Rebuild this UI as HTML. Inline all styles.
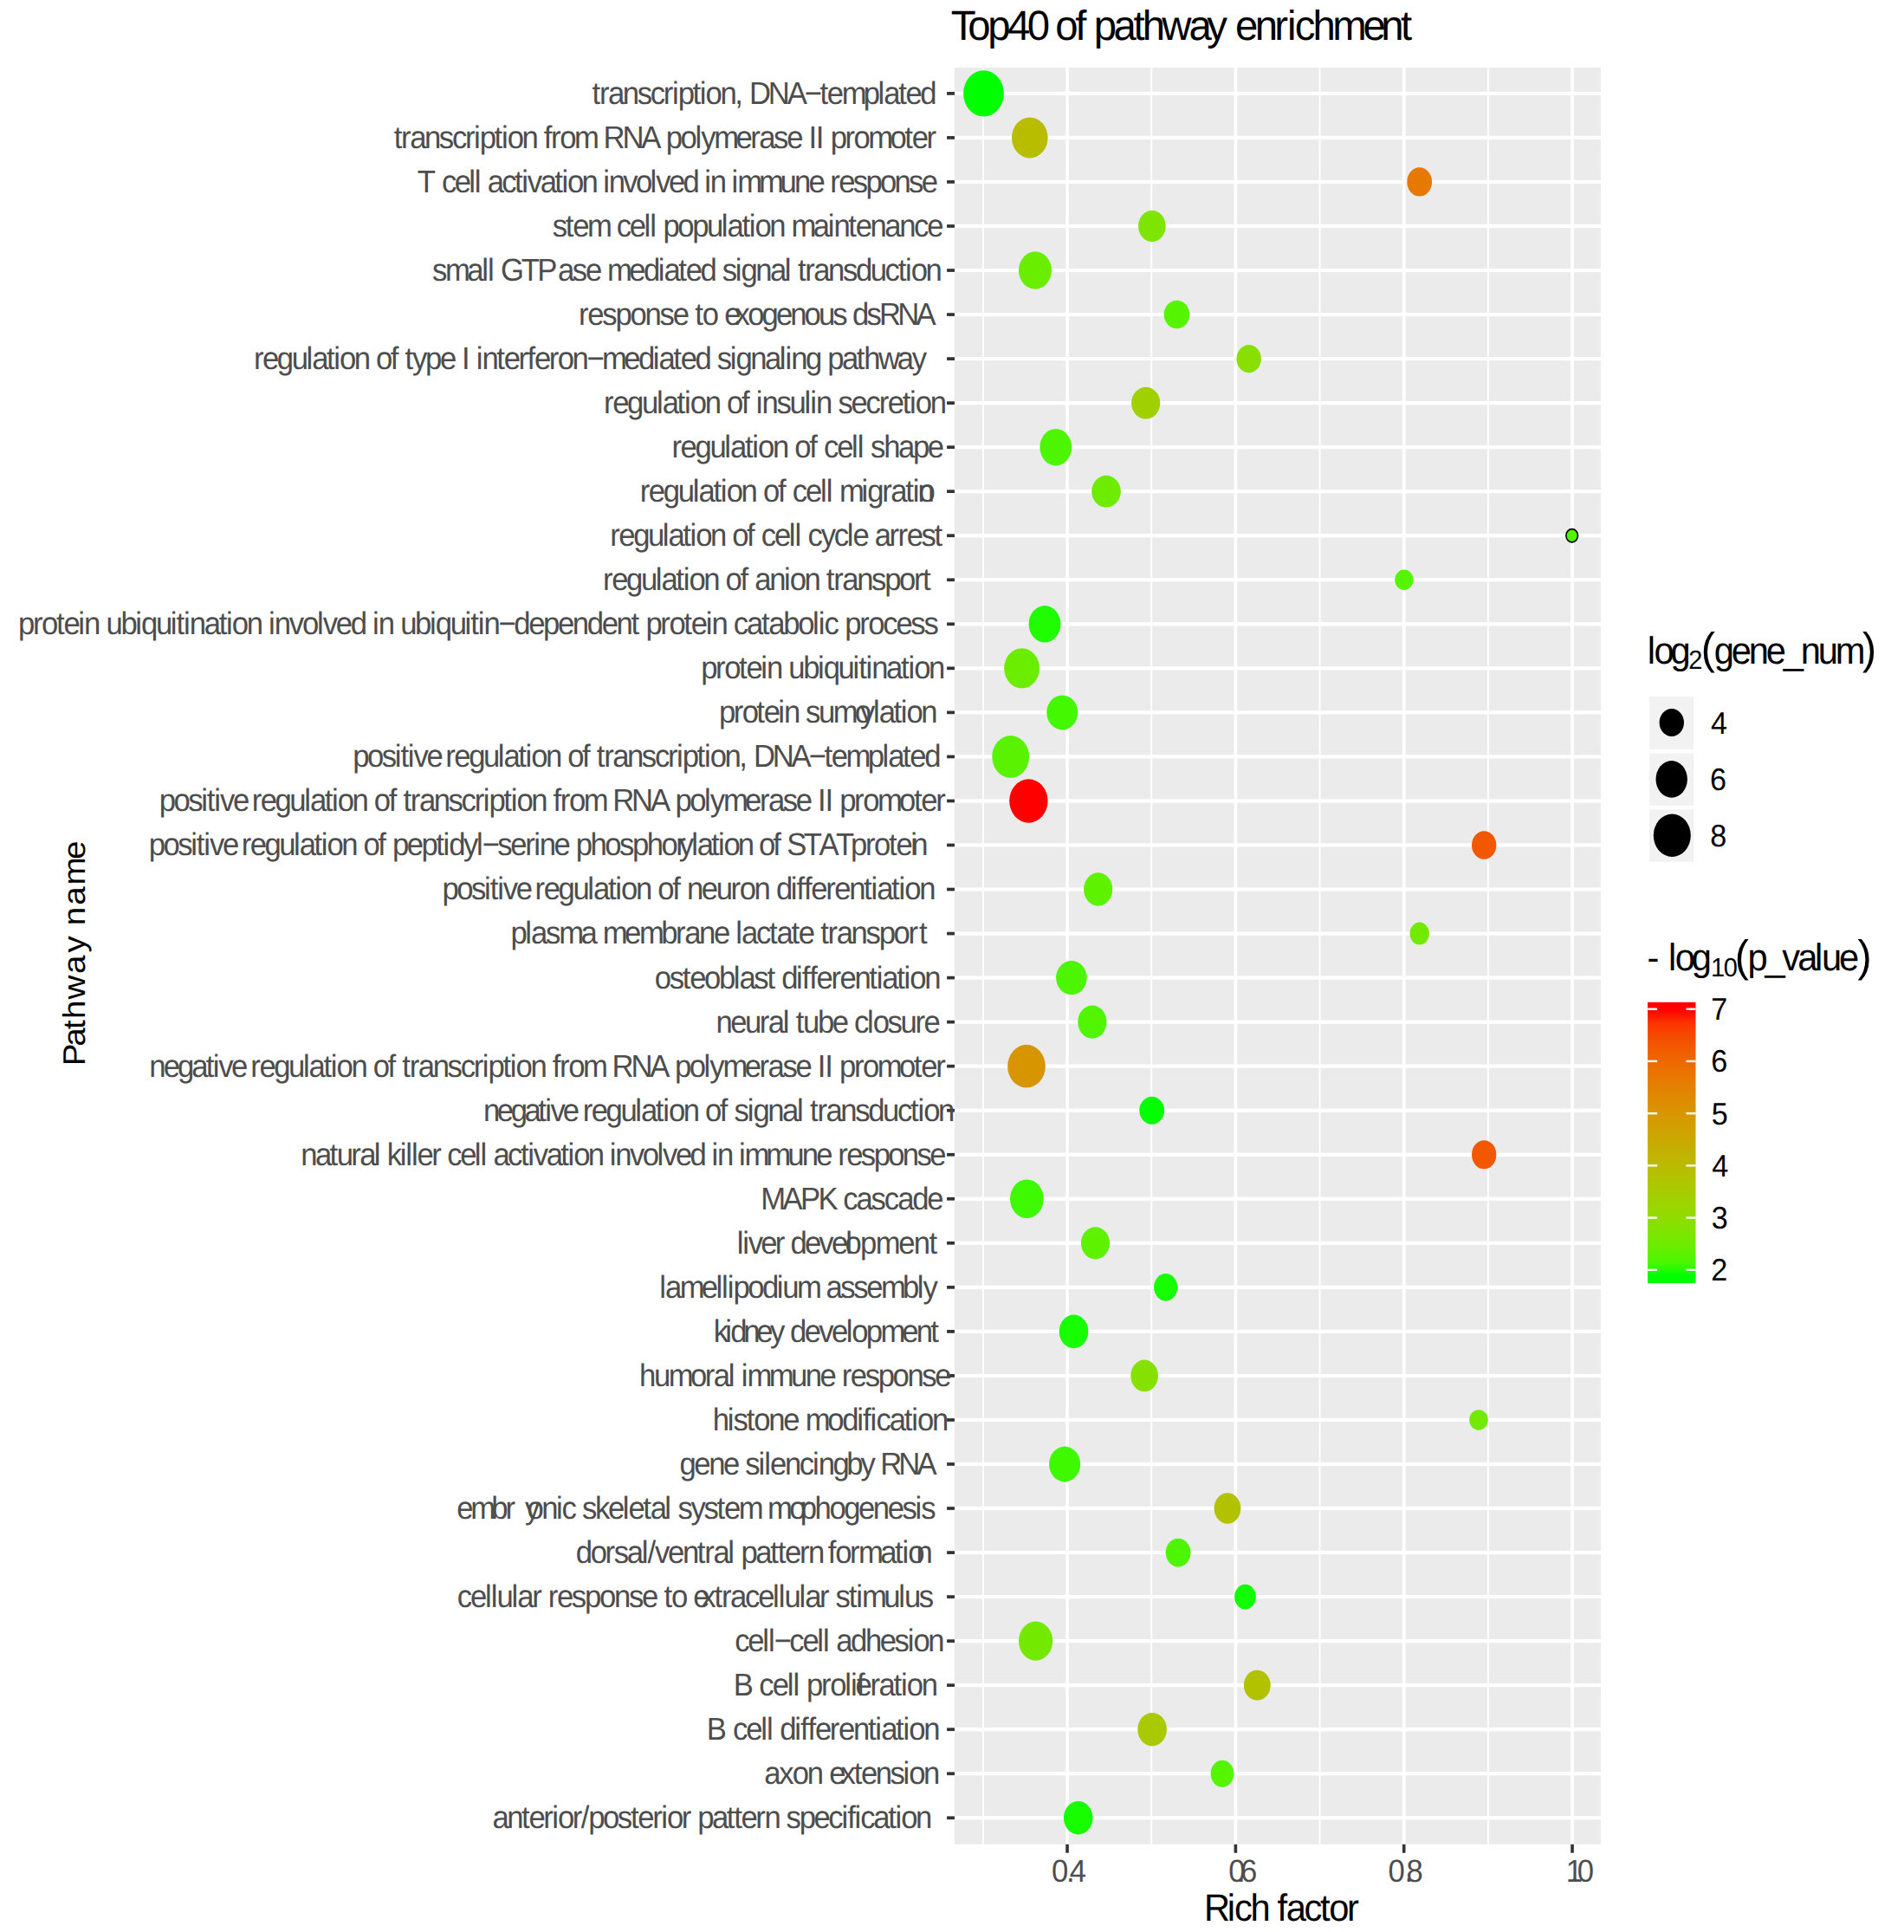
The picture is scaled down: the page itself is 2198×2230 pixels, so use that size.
<!DOCTYPE html>
<html><head><meta charset="utf-8"><title>Top40 of pathway enrichment</title>
<style>html,body{margin:0;padding:0;background:#fff}svg{display:block}text{white-space:pre}</style></head>
<body>
<svg width="2198" height="2230" viewBox="0 0 2198 2230" font-family="'Liberation Sans', sans-serif" style="font-kerning:none;font-variant-ligatures:none" text-rendering="geometricPrecision">
<rect x="0" y="0" width="2198" height="2230" fill="#fff"/>
<rect x="1102" y="78" width="745.9" height="2050.8" fill="#EBEBEB"/>
<g fill="#fff"><rect x="1134.00" y="78" width="1.9" height="2050.8"/><rect x="1328.27" y="78" width="1.9" height="2050.8"/><rect x="1522.60" y="78" width="1.9" height="2050.8"/><rect x="1716.93" y="78" width="1.9" height="2050.8"/><rect x="1102" y="105.80" width="745.9" height="4.2"/><rect x="1102" y="156.84" width="745.9" height="4.2"/><rect x="1102" y="207.87" width="745.9" height="4.2"/><rect x="1102" y="258.90" width="745.9" height="4.2"/><rect x="1102" y="309.94" width="745.9" height="4.2"/><rect x="1102" y="360.97" width="745.9" height="4.2"/><rect x="1102" y="412.01" width="745.9" height="4.2"/><rect x="1102" y="463.04" width="745.9" height="4.2"/><rect x="1102" y="514.08" width="745.9" height="4.2"/><rect x="1102" y="565.11" width="745.9" height="4.2"/><rect x="1102" y="616.15" width="745.9" height="4.2"/><rect x="1102" y="667.18" width="745.9" height="4.2"/><rect x="1102" y="718.22" width="745.9" height="4.2"/><rect x="1102" y="769.25" width="745.9" height="4.2"/><rect x="1102" y="820.29" width="745.9" height="4.2"/><rect x="1102" y="871.32" width="745.9" height="4.2"/><rect x="1102" y="922.36" width="745.9" height="4.2"/><rect x="1102" y="973.39" width="745.9" height="4.2"/><rect x="1102" y="1024.43" width="745.9" height="4.2"/><rect x="1102" y="1075.47" width="745.9" height="4.2"/><rect x="1102" y="1126.50" width="745.9" height="4.2"/><rect x="1102" y="1177.54" width="745.9" height="4.2"/><rect x="1102" y="1228.57" width="745.9" height="4.2"/><rect x="1102" y="1279.61" width="745.9" height="4.2"/><rect x="1102" y="1330.64" width="745.9" height="4.2"/><rect x="1102" y="1381.68" width="745.9" height="4.2"/><rect x="1102" y="1432.71" width="745.9" height="4.2"/><rect x="1102" y="1483.75" width="745.9" height="4.2"/><rect x="1102" y="1534.78" width="745.9" height="4.2"/><rect x="1102" y="1585.82" width="745.9" height="4.2"/><rect x="1102" y="1636.85" width="745.9" height="4.2"/><rect x="1102" y="1687.88" width="745.9" height="4.2"/><rect x="1102" y="1738.92" width="745.9" height="4.2"/><rect x="1102" y="1789.96" width="745.9" height="4.2"/><rect x="1102" y="1840.99" width="745.9" height="4.2"/><rect x="1102" y="1892.03" width="745.9" height="4.2"/><rect x="1102" y="1943.06" width="745.9" height="4.2"/><rect x="1102" y="1994.10" width="745.9" height="4.2"/><rect x="1102" y="2045.13" width="745.9" height="4.2"/><rect x="1102" y="2096.16" width="745.9" height="4.2"/><rect x="1230.20" y="78" width="3.7" height="2050.8"/><rect x="1424.53" y="78" width="3.7" height="2050.8"/><rect x="1618.87" y="78" width="3.7" height="2050.8"/><rect x="1813.20" y="78" width="3.7" height="2050.8"/></g>
<g><ellipse cx="1135.5" cy="107.90" rx="23.4" ry="26.7" fill="#00FF00"/><ellipse cx="1188.8" cy="158.94" rx="20.8" ry="23.5" fill="#B8BD00"/><ellipse cx="1638.7" cy="209.97" rx="14.4" ry="16.6" fill="#E67A00"/><ellipse cx="1329.9" cy="261.00" rx="15.8" ry="18.0" fill="#7EE500"/><ellipse cx="1195.0" cy="312.04" rx="19.0" ry="21.7" fill="#6AEE00"/><ellipse cx="1358.5" cy="363.07" rx="14.8" ry="16.2" fill="#55F400"/><ellipse cx="1441.7" cy="414.11" rx="14.2" ry="16.2" fill="#89DF00"/><ellipse cx="1322.7" cy="465.14" rx="16.6" ry="18.4" fill="#A1D000"/><ellipse cx="1218.8" cy="516.18" rx="18.4" ry="21.2" fill="#4DF600"/><ellipse cx="1277.0" cy="567.21" rx="16.8" ry="18.4" fill="#6DEC00"/><ellipse cx="1814.7" cy="618.25" rx="6.8" ry="7.6" fill="#51F500" stroke="#000" stroke-width="1.6"/><ellipse cx="1620.9" cy="669.28" rx="10.6" ry="11.8" fill="#55F400"/><ellipse cx="1206.0" cy="720.32" rx="18.4" ry="21.2" fill="#1FFD00"/><ellipse cx="1179.6" cy="771.35" rx="20.4" ry="23.2" fill="#6BED00"/><ellipse cx="1226.3" cy="822.39" rx="18.0" ry="20.0" fill="#43F800"/><ellipse cx="1166.7" cy="873.42" rx="21.4" ry="24.4" fill="#5BF200"/><ellipse cx="1187.4" cy="924.46" rx="22.2" ry="25.2" fill="#FF0000"/><ellipse cx="1713.2" cy="975.49" rx="14.2" ry="16.2" fill="#F35700"/><ellipse cx="1267.7" cy="1026.53" rx="16.6" ry="19.2" fill="#5EF100"/><ellipse cx="1638.7" cy="1077.57" rx="11.2" ry="13.0" fill="#72EA00"/><ellipse cx="1236.9" cy="1128.60" rx="17.8" ry="19.6" fill="#4DF600"/><ellipse cx="1260.9" cy="1179.63" rx="16.6" ry="19.2" fill="#51F500"/><ellipse cx="1185.0" cy="1230.67" rx="21.8" ry="24.8" fill="#D79600"/><ellipse cx="1329.7" cy="1281.70" rx="14.4" ry="16.0" fill="#00FF00"/><ellipse cx="1713.2" cy="1332.74" rx="14.2" ry="16.6" fill="#F35700"/><ellipse cx="1185.4" cy="1383.78" rx="19.4" ry="22.4" fill="#3EF900"/><ellipse cx="1264.5" cy="1434.81" rx="16.6" ry="18.6" fill="#5EF100"/><ellipse cx="1345.7" cy="1485.85" rx="13.6" ry="15.8" fill="#16FE00"/><ellipse cx="1239.5" cy="1536.88" rx="16.8" ry="19.4" fill="#16FE00"/><ellipse cx="1321.1" cy="1587.91" rx="15.8" ry="18.4" fill="#87E100"/><ellipse cx="1707.0" cy="1638.95" rx="10.8" ry="11.8" fill="#72EA00"/><ellipse cx="1229.1" cy="1689.98" rx="18.0" ry="20.4" fill="#3EF900"/><ellipse cx="1417.0" cy="1741.02" rx="15.4" ry="17.8" fill="#B2C200"/><ellipse cx="1360.1" cy="1792.06" rx="14.4" ry="16.4" fill="#4DF600"/><ellipse cx="1437.5" cy="1843.09" rx="12.4" ry="14.4" fill="#10FE00"/><ellipse cx="1195.6" cy="1894.12" rx="19.6" ry="22.6" fill="#74E900"/><ellipse cx="1451.3" cy="1945.16" rx="15.4" ry="17.4" fill="#B2C200"/><ellipse cx="1330.1" cy="1996.19" rx="16.8" ry="19.2" fill="#A9CA00"/><ellipse cx="1411.0" cy="2047.23" rx="13.4" ry="15.6" fill="#55F400"/><ellipse cx="1244.7" cy="2098.26" rx="16.8" ry="19.2" fill="#16FE00"/></g>
<g fill="#333"><rect x="1093.1" y="106.05" width="8.9" height="3.7"/><rect x="1093.1" y="157.09" width="8.9" height="3.7"/><rect x="1093.1" y="208.12" width="8.9" height="3.7"/><rect x="1093.1" y="259.15" width="8.9" height="3.7"/><rect x="1093.1" y="310.19" width="8.9" height="3.7"/><rect x="1093.1" y="361.22" width="8.9" height="3.7"/><rect x="1093.1" y="412.26" width="8.9" height="3.7"/><rect x="1093.1" y="463.29" width="8.9" height="3.7"/><rect x="1093.1" y="514.33" width="8.9" height="3.7"/><rect x="1093.1" y="565.36" width="8.9" height="3.7"/><rect x="1093.1" y="616.40" width="8.9" height="3.7"/><rect x="1093.1" y="667.43" width="8.9" height="3.7"/><rect x="1093.1" y="718.47" width="8.9" height="3.7"/><rect x="1093.1" y="769.50" width="8.9" height="3.7"/><rect x="1093.1" y="820.54" width="8.9" height="3.7"/><rect x="1093.1" y="871.57" width="8.9" height="3.7"/><rect x="1093.1" y="922.61" width="8.9" height="3.7"/><rect x="1093.1" y="973.64" width="8.9" height="3.7"/><rect x="1093.1" y="1024.68" width="8.9" height="3.7"/><rect x="1093.1" y="1075.72" width="8.9" height="3.7"/><rect x="1093.1" y="1126.75" width="8.9" height="3.7"/><rect x="1093.1" y="1177.79" width="8.9" height="3.7"/><rect x="1093.1" y="1228.82" width="8.9" height="3.7"/><rect x="1093.1" y="1279.86" width="8.9" height="3.7"/><rect x="1093.1" y="1330.89" width="8.9" height="3.7"/><rect x="1093.1" y="1381.93" width="8.9" height="3.7"/><rect x="1093.1" y="1432.96" width="8.9" height="3.7"/><rect x="1093.1" y="1484.00" width="8.9" height="3.7"/><rect x="1093.1" y="1535.03" width="8.9" height="3.7"/><rect x="1093.1" y="1586.07" width="8.9" height="3.7"/><rect x="1093.1" y="1637.10" width="8.9" height="3.7"/><rect x="1093.1" y="1688.13" width="8.9" height="3.7"/><rect x="1093.1" y="1739.17" width="8.9" height="3.7"/><rect x="1093.1" y="1790.21" width="8.9" height="3.7"/><rect x="1093.1" y="1841.24" width="8.9" height="3.7"/><rect x="1093.1" y="1892.28" width="8.9" height="3.7"/><rect x="1093.1" y="1943.31" width="8.9" height="3.7"/><rect x="1093.1" y="1994.35" width="8.9" height="3.7"/><rect x="1093.1" y="2045.38" width="8.9" height="3.7"/><rect x="1093.1" y="2096.41" width="8.9" height="3.7"/><rect x="1230.25" y="2128.8" width="3.6" height="9.9"/><rect x="1424.58" y="2128.8" width="3.6" height="9.9"/><rect x="1618.92" y="2128.8" width="3.6" height="9.9"/><rect x="1813.25" y="2128.8" width="3.6" height="9.9"/></g>
<g><text transform="translate(683.58 119.80) scale(0.9500 1)" x="0.00 8.84 19.43 37.12 54.82 70.72 86.63 97.22 104.29 121.98 130.82 137.89 155.58 173.27 182.11 190.95 213.93 236.90 258.12 276.70 285.53 303.23 329.73 347.42 354.49 372.18 381.02 398.71" y="0" font-size="36.50" fill="#4D4D4D">transcription, DNA−templated</text>
<text transform="translate(454.68 170.84) scale(0.9500 1)" x="0.00 8.84 19.44 37.13 54.83 70.74 86.65 97.24 104.31 122.01 130.85 137.92 155.62 173.31 182.15 190.99 201.59 219.29 245.79 254.63 277.61 300.59 321.81 330.65 348.35 366.05 373.11 389.02 415.53 433.23 443.82 461.52 477.43 495.12 503.97 512.81 521.65 530.49 548.18 558.78 576.48 602.98 620.68 629.52 647.21" y="0" font-size="36.50" fill="#4D4D4D">transcription from RNA polymerase II promoter</text>
<text transform="translate(481.82 221.87) scale(0.9500 1)" x="0.00 19.26 29.59 45.20 62.56 69.50 76.43 85.11 102.47 118.08 126.76 133.69 149.30 166.67 175.34 182.28 199.64 217.00 225.68 232.62 249.98 265.59 282.95 289.89 305.50 322.86 340.23 348.90 355.84 373.20 381.88 388.81 414.82 440.83 458.19 475.56 492.92 501.59 511.99 529.36 544.97 562.33 579.69 597.06 612.67" y="0" font-size="36.50" fill="#4D4D4D">T cell activation involved in immune response</text>
<text transform="translate(637.63 272.90) scale(0.9500 1)" x="0.00 15.93 24.79 42.51 69.06 77.91 93.85 111.57 118.65 125.73 134.59 152.31 170.04 187.76 205.48 212.56 230.29 239.14 246.22 263.95 281.67 290.52 317.07 334.80 341.88 359.60 368.45 386.18 403.90 421.63 439.35 455.29" y="0" font-size="36.50" fill="#4D4D4D">stem cell population maintenance</text>
<text transform="translate(498.93 323.94) scale(0.9500 1)" x="0.00 15.96 42.54 60.29 67.38 74.47 83.33 108.15 127.65 152.73 170.40 186.29 203.96 212.79 239.26 256.93 274.60 281.66 299.33 308.16 325.83 343.50 352.33 368.22 375.28 392.95 410.62 428.29 435.35 444.18 453.01 463.59 481.26 498.93 514.82 532.49 550.17 566.05 574.88 581.94 599.61" y="0" font-size="36.50" fill="#4D4D4D">small GTPase mediated signal transduction</text>
<text transform="translate(668.00 374.97) scale(0.9500 1)" x="0.00 10.71 28.60 44.68 62.57 80.46 98.34 114.43 132.31 141.25 150.19 168.07 177.01 190.12 205.57 222.76 239.95 257.14 274.33 291.52 308.71 324.17 332.76 349.95 365.40 387.72 410.04" y="0" font-size="36.50" fill="#4D4D4D">response to exogenous dsRNA</text>
<text transform="translate(293.00 426.01) scale(0.9500 1)" x="0.00 10.59 28.26 45.94 63.62 70.68 88.36 97.19 104.25 121.93 139.61 148.44 166.12 174.95 183.78 192.62 208.51 226.19 243.87 252.70 261.53 270.36 277.42 295.10 303.93 321.61 332.20 341.03 358.71 369.29 386.97 404.65 423.21 449.69 467.37 485.05 492.11 509.79 518.62 536.30 553.98 562.81 578.70 585.76 603.44 621.12 638.80 645.86 652.92 670.60 688.28 697.11 714.79 732.47 741.30 758.98 781.94 799.61" y="0" font-size="36.50" fill="#4D4D4D">regulation of type I interferon−mediated signaling pathway</text>
<text transform="translate(697.10 477.04) scale(0.9500 1)" x="0.00 10.65 28.44 46.23 64.02 71.12 88.91 97.80 104.91 122.70 140.48 149.37 167.16 176.05 184.93 192.04 209.83 225.82 243.61 250.72 257.82 275.61 284.50 300.49 318.28 334.27 344.92 362.71 371.60 378.71 396.49" y="0" font-size="36.50" fill="#4D4D4D">regulation of insulin secretion</text>
<text transform="translate(775.50 528.08) scale(0.9500 1)" x="0.00 10.64 28.42 46.19 63.96 71.06 88.84 97.72 104.82 122.59 140.36 149.24 167.01 175.89 184.77 200.75 218.53 225.63 232.73 241.60 257.58 275.36 293.13 310.90" y="0" font-size="36.50" fill="#4D4D4D">regulation of cell shape</text>
<text transform="translate(738.70 579.11) scale(0.9500 1)" x="0.00 10.68 28.52 46.36 64.19 71.32 89.16 98.07 105.19 123.03 140.87 149.78 167.62 176.53 185.44 201.47 219.31 226.44 233.56 242.47 269.19 276.32 294.15 304.84 322.67 331.58 338.71 337.58" y="0" font-size="36.50" fill="#4D4D4D">regulation of cell migration</text>
<text transform="translate(704.30 630.15) scale(0.9500 1)" x="0.00 10.58 28.26 45.93 63.61 70.67 88.35 97.18 104.24 121.91 139.59 148.42 166.09 174.92 183.75 199.64 217.32 224.38 231.44 240.27 256.16 272.05 287.94 295.00 312.68 321.51 339.19 349.77 360.35 378.03 393.92" y="0" font-size="36.50" fill="#4D4D4D">regulation of cell cycle arrest</text>
<text transform="translate(696.10 681.18) scale(0.9500 1)" x="0.00 10.62 28.36 46.10 63.84 70.93 88.67 97.53 104.62 122.35 140.09 148.96 166.70 175.56 184.42 202.16 219.90 226.99 244.73 262.46 271.33 280.19 290.81 308.55 326.29 342.24 359.98 377.72 388.34" y="0" font-size="36.50" fill="#4D4D4D">regulation of anion transport</text>
<text transform="translate(21.07 732.22) scale(0.9500 1)" x="0.00 17.80 28.46 46.26 55.15 72.95 80.06 97.86 106.75 124.55 142.35 149.46 167.26 185.06 192.17 201.06 208.17 225.97 243.77 252.66 259.77 277.57 295.37 304.26 311.37 329.17 345.17 362.97 370.08 386.08 403.88 421.68 430.57 437.68 455.48 464.37 482.17 499.97 507.08 524.88 542.68 549.79 558.68 565.79 583.59 602.28 620.08 637.88 655.68 673.48 691.28 709.08 726.88 744.68 753.57 762.46 780.26 790.92 808.72 817.61 835.41 842.52 860.32 869.21 885.21 903.01 911.90 929.70 947.50 965.30 972.41 979.52 995.52 1004.41 1022.21 1032.87 1050.67 1066.67 1084.47 1100.47" y="0" font-size="36.50" fill="#4D4D4D">protein ubiquitination involved in ubiquitin−dependent protein catabolic process</text>
<text transform="translate(809.27 783.25) scale(0.9500 1)" x="0.00 17.73 28.35 46.08 54.94 72.67 79.76 97.49 106.35 124.08 141.81 148.90 166.63 184.36 191.45 200.30 207.39 225.12 242.85 251.71 258.80 276.53" y="0" font-size="36.50" fill="#4D4D4D">protein ubiquitination</text>
<text transform="translate(829.97 834.29) scale(0.9500 1)" x="0.00 17.56 28.07 45.63 54.40 71.96 78.98 96.54 105.31 121.09 138.65 164.95 171.63 187.47 194.51 212.13 220.93 227.96 245.58" y="0" font-size="36.50" fill="#4D4D4D">protein sumoylation</text>
<text transform="translate(407.27 885.32) scale(0.9500 1)" x="0.00 17.62 35.23 51.07 58.11 66.91 73.94 89.78 107.40 112.67 123.25 140.92 158.59 176.26 183.32 200.99 209.82 216.88 234.55 252.22 261.05 278.72 287.55 296.38 305.21 315.79 333.46 351.13 367.02 382.91 393.49 400.55 418.22 427.05 434.10 451.78 469.45 478.28 487.10 510.05 533.00 554.19 572.75 581.57 599.25 625.71 643.39 650.44 668.12 676.94 694.62" y="0" font-size="36.50" fill="#4D4D4D">positive regulation of transcription, DNA−templated</text>
<text transform="translate(183.67 936.36) scale(0.9500 1)" x="0.00 17.62 35.23 51.07 58.11 66.91 73.94 89.78 107.40 112.67 123.26 140.95 158.64 176.34 183.40 201.09 209.93 217.00 234.69 252.38 261.22 278.91 287.75 296.59 305.43 316.02 333.71 351.41 367.31 383.22 393.81 400.88 418.57 427.41 434.48 452.17 469.86 478.70 487.54 498.13 515.82 542.32 551.16 574.13 597.11 618.32 627.16 644.85 662.55 669.61 685.52 712.02 729.71 740.30 758.00 773.90 791.59 800.43 809.27 818.11 826.95 844.64 855.23 872.92 899.42 917.12 925.95 943.65" y="0" font-size="36.50" fill="#4D4D4D">positive regulation of transcription from RNA polymerase II promoter</text>
<text transform="translate(171.67 987.39) scale(0.9500 1)" x="0.00 17.62 35.23 51.07 58.11 66.91 73.94 89.78 107.40 112.67 123.23 140.86 158.50 176.14 183.18 200.82 209.63 216.67 234.31 251.95 260.76 278.39 287.21 296.02 313.65 331.29 348.93 357.74 364.78 382.42 398.27 405.32 423.84 439.70 457.33 467.89 474.94 492.57 510.21 519.02 536.66 554.30 571.93 587.79 605.43 623.06 640.70 644.26 659.59 666.40 683.45 691.97 698.78 715.83 732.88 741.40 758.45 766.97 775.48 795.93 814.66 835.11 853.83 852.95 870.76 881.43 899.25 908.15 925.97 926.88" y="0" font-size="36.50" fill="#4D4D4D">positive regulation of peptidyl−serine phosphorylation of STAT protein</text>
<text transform="translate(510.57 1038.43) scale(0.9500 1)" x="0.00 17.62 35.23 51.07 58.11 66.91 73.94 89.78 107.40 112.67 123.30 141.06 158.82 176.58 183.68 201.44 210.31 217.40 235.16 252.92 261.80 279.56 288.43 297.30 315.06 332.82 350.58 361.22 378.98 396.74 405.61 423.37 430.47 439.34 448.21 465.97 476.61 494.37 512.13 521.00 528.09 545.85 554.73 561.82 579.58" y="0" font-size="36.50" fill="#4D4D4D">positive regulation of neuron differentiation</text>
<text transform="translate(589.47 1089.47) scale(0.9500 1)" x="0.00 17.77 24.87 42.64 58.62 85.24 103.01 111.89 138.51 156.28 182.90 200.67 211.31 229.09 246.86 264.63 273.51 280.61 298.38 314.36 323.23 341.01 349.88 367.66 376.53 385.41 396.05 413.83 431.60 447.58 465.35 483.12 496.43" y="0" font-size="36.50" fill="#4D4D4D">plasma membrane lactate transport</text>
<text transform="translate(755.84 1140.50) scale(0.9500 1)" x="0.00 17.72 33.65 42.51 60.23 77.95 95.67 102.75 120.48 136.41 145.26 154.11 171.84 178.92 187.77 196.62 214.34 224.96 242.68 260.40 269.25 276.33 294.05 302.91 309.99 327.71" y="0" font-size="36.50" fill="#4D4D4D">osteoblast differentiation</text>
<text transform="translate(826.40 1191.54) scale(0.9500 1)" x="0.00 17.68 35.36 53.04 63.62 81.30 88.37 97.20 106.03 123.71 141.39 159.07 167.90 183.79 190.85 208.53 224.43 242.11 252.69" y="0" font-size="36.50" fill="#4D4D4D">neural tube closure</text>
<text transform="translate(172.30 1242.57) scale(0.9500 1)" x="0.00 17.20 34.41 51.61 68.81 77.41 84.28 99.75 116.95 123.16 133.77 151.49 169.22 186.94 194.02 211.74 220.60 227.68 245.40 263.12 271.98 289.70 298.56 307.41 316.26 326.88 344.60 362.32 378.26 394.19 404.80 411.88 429.61 438.46 445.54 463.26 480.99 489.84 498.69 509.31 527.03 553.58 562.43 585.44 608.46 629.71 638.57 656.29 674.01 681.09 697.03 723.57 741.30 751.91 769.63 785.57 803.29 812.14 821.00 829.85 838.71 856.43 867.04 884.77 911.31 929.03 937.89 955.61" y="0" font-size="36.50" fill="#4D4D4D">negative regulation of transcription from RNA polymerase II promoter</text>
<text transform="translate(558.00 1293.61) scale(0.9500 1)" x="0.00 16.68 33.35 50.03 66.71 75.04 81.70 96.69 113.37 120.74 131.34 149.05 166.75 184.46 191.54 209.24 218.09 225.16 242.87 260.58 269.42 287.13 295.98 304.82 320.74 327.81 345.52 363.23 380.94 388.01 396.86 405.70 416.30 434.01 451.72 467.64 485.35 503.05 518.97 527.82 534.89 552.60" y="0" font-size="36.50" fill="#4D4D4D">negative regulation of signal transduction</text>
<text transform="translate(347.30 1344.64) scale(0.9500 1)" x="0.00 17.46 34.92 43.64 61.10 71.56 89.02 95.99 104.71 120.41 127.38 134.36 141.33 158.79 169.25 177.97 193.67 211.13 218.10 225.08 233.80 251.26 266.95 275.68 282.65 298.35 315.81 324.53 331.50 348.96 366.42 375.15 382.12 399.58 415.28 432.74 439.71 455.41 472.87 490.33 499.05 506.03 523.48 532.21 539.18 565.33 591.48 608.94 626.40 643.86 652.59 663.04 680.50 696.20 713.66 731.12 748.58 764.27" y="0" font-size="36.50" fill="#4D4D4D">natural killer cell activation involved in immune response</text>
<text transform="translate(878.16 1395.68) scale(0.9500 1)" x="0.00 26.81 48.27 69.74 91.20 100.14 116.23 134.13 150.22 166.31 184.21 202.11" y="0" font-size="36.50" fill="#4D4D4D">MAPK cascade</text>
<text transform="translate(850.66 1446.71) scale(0.9500 1)" x="0.00 6.86 13.72 29.16 46.34 56.62 65.20 82.37 99.55 114.99 132.16 131.35 149.92 168.48 196.29 214.86 233.43" y="0" font-size="36.50" fill="#4D4D4D">liver development</text>
<text transform="translate(761.26 1497.75) scale(0.9500 1)" x="0.00 7.03 24.64 51.00 68.61 75.64 82.67 89.70 107.31 124.91 142.51 149.55 167.15 193.52 202.31 219.92 235.74 251.57 269.17 295.54 313.14 320.18" y="0" font-size="36.50" fill="#4D4D4D">lamellipodium assembly</text>
<text transform="translate(823.66 1548.78) scale(0.9500 1)" x="0.00 14.20 20.51 36.30 52.10 68.69 84.36 93.07 110.50 127.93 143.61 161.04 168.00 185.44 202.87 228.98 246.42 263.85" y="0" font-size="36.50" fill="#4D4D4D">kidney development</text>
<text transform="translate(738.10 1599.82) scale(0.9500 1)" x="0.00 17.71 35.41 61.94 79.64 90.24 107.95 115.02 123.87 130.94 157.47 183.99 201.69 219.40 237.11 245.95 256.56 274.26 290.18 307.89 325.60 343.30 359.22" y="0" font-size="36.50" fill="#4D4D4D">humoral immune response</text>
<text transform="translate(822.70 1650.85) scale(0.9500 1)" x="0.00 17.90 25.05 41.15 50.09 67.99 85.90 103.80 112.74 139.56 157.46 175.36 182.51 191.46 198.61 214.70 232.60 241.55 248.70 266.60" y="0" font-size="36.50" fill="#4D4D4D">histone modification</text>
<text transform="translate(784.44 1701.88) scale(0.9500 1)" x="0.00 17.76 35.52 53.29 71.05 79.92 95.89 102.98 110.08 127.84 145.60 161.57 168.67 186.43 204.19 202.97 220.07 235.45 244.00 266.21 288.42" y="0" font-size="36.50" fill="#4D4D4D">gene silencing by RNA</text>
<text transform="translate(527.23 1752.92) scale(0.9500 1)" x="0.00 16.91 42.25 59.16 82.94 85.49 103.11 120.73 127.77 143.61 152.41 168.25 184.09 201.71 208.75 226.37 235.17 252.79 259.83 268.63 284.47 300.31 316.15 324.95 342.57 368.96 377.76 404.15 417.65 417.41 435.11 452.81 470.51 488.21 505.92 523.62 541.32 557.23 564.30" y="0" font-size="36.50" fill="#4D4D4D">embryonic skeletal system morphogenesis</text>
<text transform="translate(664.84 1803.96) scale(0.9500 1)" x="0.00 17.77 35.53 46.17 62.15 79.91 87.01 95.89 111.86 129.63 147.39 156.27 166.91 184.68 191.77 200.65 218.42 236.18 245.06 253.93 271.70 282.34 300.11 306.28 315.12 332.81 343.40 369.90 387.60 396.44 403.50 413.32" y="0" font-size="36.50" fill="#4D4D4D">dorsal/ventral pattern formation</text>
<text transform="translate(527.83 1854.99) scale(0.9500 1)" x="0.00 16.03 33.86 40.98 48.10 65.93 73.05 90.88 101.55 110.46 121.13 138.96 154.99 172.82 190.64 208.47 224.50 242.33 251.23 260.14 277.97 286.87 296.30 312.28 321.17 331.81 349.60 365.58 383.36 390.47 397.57 415.35 422.46 440.24 450.88 459.77 475.75 484.64 491.74 518.37 536.16 543.26 561.04" y="0" font-size="36.50" fill="#4D4D4D">cellular response to extracellular stimulus</text>
<text transform="translate(848.23 1906.03) scale(0.9500 1)" x="0.00 15.94 33.66 40.75 47.83 66.44 82.38 100.11 107.19 114.27 123.12 140.85 158.58 176.31 194.03 209.97 217.05 234.78" y="0" font-size="36.50" fill="#4D4D4D">cell−cell adhesion</text>
<text transform="translate(846.86 1957.06) scale(0.9500 1)" x="0.00 21.03 31.02 47.18 65.15 72.33 79.50 88.48 106.45 117.21 135.18 142.36 149.54 147.97 165.86 176.57 194.46 203.40 210.54 228.43" y="0" font-size="36.50" fill="#4D4D4D">B cell proliferation</text>
<text transform="translate(815.86 2008.10) scale(0.9500 1)" x="0.00 21.03 31.76 47.80 65.64 72.77 79.90 88.81 106.66 113.78 122.70 131.61 149.45 160.14 177.98 195.82 204.74 211.86 229.71 238.62 245.75 263.59" y="0" font-size="36.50" fill="#4D4D4D">B cell differentiation</text>
<text transform="translate(882.33 2059.13) scale(0.9500 1)" x="0.00 17.93 34.05 51.98 69.91 78.87 92.93 108.77 117.57 135.19 152.81 168.65 175.69 193.31" y="0" font-size="36.50" fill="#4D4D4D">axon extension</text>
<text transform="translate(568.43 2110.16) scale(0.9500 1)" x="0.00 17.69 35.37 44.21 61.89 72.48 79.55 97.23 107.82 116.66 134.34 152.03 167.93 176.76 194.45 205.04 212.10 229.79 240.38 249.21 266.90 284.58 293.42 302.25 319.94 330.53 348.22 357.05 372.95 390.64 408.32 424.22 431.29 440.12 447.19 463.09 480.77 489.61 496.67 514.36" y="0" font-size="36.50" fill="#4D4D4D">anterior/posterior pattern specification</text></g>
<text transform="translate(1214.00 2171.60) scale(0.9500 1)" x="0.00 17.89 21.89" y="0" font-size="36.50" fill="#4D4D4D">0.4</text>
<text transform="translate(1418.30 2171.60) scale(0.9500 1)" x="0.00 10.21 14.42" y="0" font-size="36.50" fill="#4D4D4D">0.6</text>
<text transform="translate(1602.50 2171.60) scale(0.9500 1)" x="0.00 20.11 22.00" y="0" font-size="36.50" fill="#4D4D4D">0.8</text>
<text transform="translate(1807.70 2171.60) scale(0.9500 1)" x="0.00 5.58 13.79" y="0" font-size="36.50" fill="#4D4D4D">1.0</text>
<text transform="translate(1097.84 45.70) scale(0.9800 1)" x="0.00 19.77 43.38 66.51 89.61 112.44 122.93 146.42 157.83 168.28 191.48 214.95 225.39 248.30 280.26 301.48 322.00 334.95 357.98 380.94 396.02 405.05 426.21 449.31 485.26 506.55 529.84" y="0" font-size="48.30" fill="#000">Top40 of pathway enrichment</text>
<text transform="translate(1389.88 2216.70) scale(0.9500 1)" x="0.00 28.23 36.92 56.46 78.20 89.07 99.93 121.67 141.21 152.07 173.82" y="0" font-size="43.90" fill="#000">Rich factor</text>
<text transform="translate(98.2 1227.2) rotate(-90) scale(1.070 1)" x="-2.90 18.13 36.64 47.76 68.97 96.45 119.35 136.45 148.60 170.47 192.15 219.91" y="0" font-size="36.0" fill="#000">Pathway name</text>
<g fill="#F2F2F2"><rect x="1904" y="803.9" width="51.2" height="61.2"/><rect x="1904" y="869.5" width="51.2" height="60.4"/><rect x="1904" y="934.3" width="51.2" height="60.4"/></g>
<g fill="#000"><ellipse cx="1929.8" cy="834" rx="14.2" ry="16"/><ellipse cx="1929.7" cy="899.4" rx="18.2" ry="21.3"/><ellipse cx="1930.3" cy="964.3" rx="21.5" ry="24.7"/></g>
<text transform="translate(1974.92 847.20) scale(0.9500 1)" x="0.00" y="0" font-size="36.00" fill="#000">4</text>
<text transform="translate(1973.96 912.20) scale(0.9500 1)" x="0.00" y="0" font-size="36.00" fill="#000">6</text>
<text transform="translate(1974.21 977.20) scale(0.9500 1)" x="0.00" y="0" font-size="36.00" fill="#000">8</text>
<text transform="translate(1901.79 765.50) scale(0.9500 1)" x="0.00 8.02 28.11" y="0" font-size="43.90" fill="#000">log</text>
<text transform="translate(1949.24 772.40) scale(0.9500 1)" x="0.00" y="0" font-size="30.50" fill="#000">2</text>
<text transform="translate(1963.80 766.00) scale(0.9500 1)" x="0.00" y="0" font-size="51.00" fill="#000">(</text>
<text transform="translate(1978.85 765.50) scale(0.9500 1)" x="0.00 21.05 42.09 63.14 84.19 105.23 126.28 147.33" y="0" font-size="43.90" fill="#000">gene_num</text>
<text transform="translate(2150.12 766.00) scale(0.9500 1)" x="0.00" y="0" font-size="51.00" fill="#000">)</text>
<text transform="translate(1901.45 1120.10) scale(0.9500 1)" x="0.00" y="0" font-size="43.90" fill="#000">-</text>
<text transform="translate(1925.99 1120.10) scale(0.9500 1)" x="0.00 8.05 28.21" y="0" font-size="43.90" fill="#000">log</text>
<text transform="translate(1975.09 1127.30) scale(0.9500 1)" x="0.00 15.50" y="0" font-size="30.50" fill="#000">10</text>
<text transform="translate(2002.70 1120.60) scale(0.9500 1)" x="0.00" y="0" font-size="51.00" fill="#000">(</text>
<text transform="translate(2017.51 1120.10) scale(0.9500 1)" x="0.00 20.95 41.90 60.73 81.68 90.05 111.00" y="0" font-size="43.90" fill="#000">p_value</text>
<text transform="translate(2144.52 1120.60) scale(0.9500 1)" x="0.00" y="0" font-size="51.00" fill="#000">)</text>
<defs><linearGradient id="cb" x1="0" y1="0" x2="0" y2="1"><stop offset="0.0250" stop-color="#FF0000"/><stop offset="0.0750" stop-color="#FB3500"/><stop offset="0.1250" stop-color="#F64C00"/><stop offset="0.1750" stop-color="#F15E00"/><stop offset="0.2250" stop-color="#EC6C00"/><stop offset="0.2750" stop-color="#E77A00"/><stop offset="0.3250" stop-color="#E18600"/><stop offset="0.3750" stop-color="#DB9100"/><stop offset="0.4250" stop-color="#D49C00"/><stop offset="0.4750" stop-color="#CCA600"/><stop offset="0.5250" stop-color="#C4B000"/><stop offset="0.5750" stop-color="#BCB900"/><stop offset="0.6250" stop-color="#B2C300"/><stop offset="0.6750" stop-color="#A7CC00"/><stop offset="0.7250" stop-color="#9BD500"/><stop offset="0.7750" stop-color="#8DDD00"/><stop offset="0.8250" stop-color="#7CE600"/><stop offset="0.8750" stop-color="#68EE00"/><stop offset="0.9250" stop-color="#4BF700"/><stop offset="0.9750" stop-color="#00FF00"/></linearGradient></defs>
<rect x="1902.1" y="1156.8" width="55.4" height="324.3" fill="url(#cb)"/>
<text transform="translate(1975.25 1177.10) scale(0.9500 1)" x="0.00" y="0" font-size="36.00" fill="#000">7</text>
<text transform="translate(1975.26 1237.32) scale(0.9500 1)" x="0.00" y="0" font-size="36.00" fill="#000">6</text>
<text transform="translate(1975.63 1297.54) scale(0.9500 1)" x="0.00" y="0" font-size="36.00" fill="#000">5</text>
<text transform="translate(1976.22 1357.76) scale(0.9500 1)" x="0.00" y="0" font-size="36.00" fill="#000">4</text>
<text transform="translate(1975.70 1417.98) scale(0.9500 1)" x="0.00" y="0" font-size="36.00" fill="#000">3</text>
<text transform="translate(1975.28 1478.20) scale(0.9500 1)" x="0.00" y="0" font-size="36.00" fill="#000">2</text>
<g fill="#fff"><rect x="1902.1" y="1163.50" width="11" height="2.4"/><rect x="1946.5" y="1163.50" width="11" height="2.4"/><rect x="1902.1" y="1223.72" width="11" height="2.4"/><rect x="1946.5" y="1223.72" width="11" height="2.4"/><rect x="1902.1" y="1283.94" width="11" height="2.4"/><rect x="1946.5" y="1283.94" width="11" height="2.4"/><rect x="1902.1" y="1344.16" width="11" height="2.4"/><rect x="1946.5" y="1344.16" width="11" height="2.4"/><rect x="1902.1" y="1404.38" width="11" height="2.4"/><rect x="1946.5" y="1404.38" width="11" height="2.4"/><rect x="1902.1" y="1464.60" width="11" height="2.4"/><rect x="1946.5" y="1464.60" width="11" height="2.4"/></g>
</svg>
</body></html>
